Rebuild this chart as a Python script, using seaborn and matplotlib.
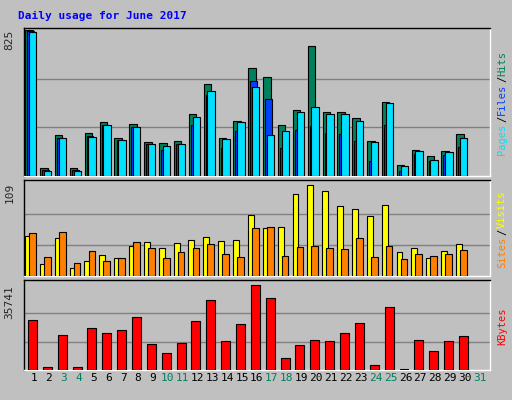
import numpy as np
import matplotlib
matplotlib.use("Agg")
import matplotlib.pyplot as plt
import seaborn as sns

days = list(range(1, 32))
hits = [825, 43, 230, 43, 241, 303, 213, 292, 190, 185, 196, 348, 518, 213, 309, 608, 558, 286, 371, 733, 360, 360, 326, 196, 416, 60, 145, 111, 139, 235]
files = [817, 34, 213, 34, 224, 286, 202, 275, 179, 145, 179, 286, 456, 156, 252, 535, 433, 156, 258, 281, 241, 235, 196, 83, 286, 26, 122, 83, 117, 162]
pages = [812, 26, 213, 26, 218, 286, 202, 275, 179, 168, 179, 332, 478, 207, 303, 501, 230, 252, 360, 388, 348, 348, 309, 190, 411, 55, 139, 89, 134, 213]
visits = [47, 14, 44, 9, 18, 25, 21, 35, 40, 33, 39, 42, 46, 41, 42, 72, 56, 57, 96, 107, 100, 82, 78, 70, 83, 28, 33, 21, 29, 37]
sites = [50, 22, 51, 15, 29, 18, 21, 40, 33, 21, 28, 33, 37, 26, 22, 56, 58, 23, 34, 35, 33, 32, 44, 22, 35, 20, 26, 23, 26, 30]
kbytes = [20970, 1190, 14640, 1190, 17800, 15430, 16620, 22160, 11080, 7120, 11470, 20570, 29280, 12270, 19390, 35741, 30470, 5140, 10680, 12660, 12270, 15430, 19780, 1980, 26510, 260, 12660, 7910, 12270, 14240]
weekend = {3, 4, 10, 11, 17, 18, 24, 25, 31}

sns.set_style("white")
plt.rcParams['font.family'] = ['DejaVu Sans Mono', 'DejaVu Sans']
BG = '#C0C0C0'
fig = plt.figure(figsize=(5.12, 4.0), dpi=100, facecolor=BG)
fig.text(0.035, 0.96, "Daily usage for June 2017", color='#0000FF', fontsize=8, fontweight='bold', va='center')

x = np.arange(1, len(hits) + 1)
L, W = 24/512, 466/512
def mkax(top, bot):
    ax = fig.add_axes([L, 1-bot/400, W, (bot-top)/400])
    ax.set_facecolor(BG)
    ax.set_xlim(0.33, 31.69)
    for s in ax.spines.values():
        s.set_color('black'); s.set_linewidth(1)
    ax.spines['right'].set_color('white'); ax.spines['bottom'].set_color('white')
    ax.set_xticks([])
    return ax

ek = dict(edgecolor='black', linewidth=0.8, zorder=3)
ax1 = mkax(28, 176)
ax1.set_ylim(0, 836)
ax1.bar(x-0.33, hits, width=0.5, color='#00805C', **ek)
ax1.bar(x-0.22, files, width=0.45, color='#0040FF', **ek)
ax1.bar(x-0.08, pages, width=0.5, color='#00E0FF', **ek)
for g in (275, 550):
    ax1.axhline(g, color='#808080', lw=1, zorder=1)
ax1.set_yticks([])
ax1.text(-0.02, 825, "825", transform=ax1.get_yaxis_transform(), rotation=90, ha='right', va='top', fontsize=8)

ax2 = mkax(180, 276)
ax2.set_ylim(0, 112.5)
ax2.bar(x-0.4, visits, width=0.4, color='#FFFF00', **ek)
ax2.bar(x-0.1, sites, width=0.45, color='#FF8000', **ek)
for g in (36.3, 72.7):
    ax2.axhline(g, color='#808080', lw=1, zorder=1)
ax2.set_yticks([])
ax2.text(-0.02, 109, "109", transform=ax2.get_yaxis_transform(), rotation=90, ha='right', va='top', fontsize=8)

ax3 = mkax(280, 370)
ax3.set_ylim(0, 37840)
ax3.bar(x-0.1, kbytes, width=0.6, color='#FF0000', **ek)
for g in (11914, 23827):
    ax3.axhline(g, color='#808080', lw=1, zorder=1)
ax3.set_yticks([])
ax3.text(-0.02, 35741, "35741", transform=ax3.get_yaxis_transform(), rotation=90, ha='right', va='top', fontsize=8)
for d in days:
    ax3.text(d, -0.03, str(d), transform=ax3.get_xaxis_transform(), ha='center', va='top', fontsize=8,
             color='#00805C' if d in weekend else 'black')

def rlabel(ax, parts):
    tot = sum(len(p[0]) for p in parts)
    ch = 6.6 / ((ax.get_position().height) * 400)  # axes fraction per char
    y = 0.5 - tot * ch / 2
    for t, c in parts:
        ax.text(1.015, y, t, transform=ax.transAxes, rotation=90, ha='left', va='bottom', fontsize=7.5, color=c)
        y += len(t) * ch
rlabel(ax1, [("Pages", '#00E0FF'), ("/", 'black'), ("Files", '#0040FF'), ("/", 'black'), ("Hits", '#00805C')])
rlabel(ax2, [("Sites", '#FF8000'), ("/", 'black'), ("Visits", '#FFFF00')])
rlabel(ax3, [("KBytes", '#FF0000')])

fig.savefig("out.png", dpi=100, facecolor=BG)
